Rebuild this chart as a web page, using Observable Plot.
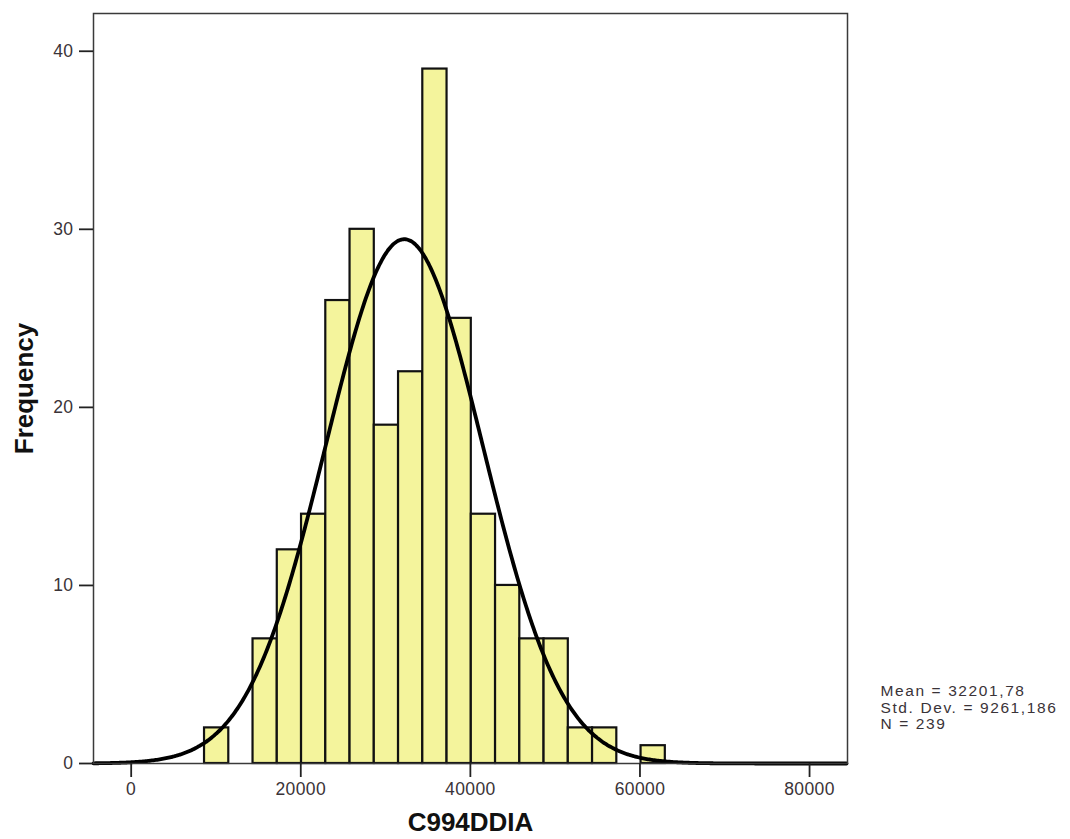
<!DOCTYPE html>
<html>
<head>
<meta charset="utf-8">
<script src="https://cdn.jsdelivr.net/npm/d3@7"></script>
<script src="https://cdn.jsdelivr.net/npm/@observablehq/plot@0.6"></script>
<style>
  html, body { margin: 0; padding: 0; background: #ffffff; }
  #chart svg { display: block; }
  g[aria-label="x-axis tick label"] text, g[aria-label="y-axis tick label"] text { letter-spacing: 0.4px; }
  g[aria-label="text"].stats text { letter-spacing: 1.6px; }
</style>
</head>
<body>
<div id="chart"></div>
<script>
// ---- data ----
const binEdges = [8650, 11510, 14370, 17230, 20090, 22950, 25810, 28670, 31530, 34390,
                  37250, 40110, 42970, 45830, 48690, 51550, 54410, 57270, 60130, 62990];
const counts   = [2, 0, 7, 12, 14, 26, 30, 19, 22, 39, 25, 14, 10, 7, 7, 2, 2, 0, 1];
const xTicks = [0, 20000, 40000, 60000, 80000];
const yTicks = [0, 10, 20, 30, 40];
const statMean = 32201.78;
const statSD = 9261.186;
const statN = 239;
const statLines = ["Mean = 32201,78", "Std. Dev. = 9261,186", "N = 239"];
const xLabel = "C994DDIA";
const yLabel = "Frequency";

const bins = counts.map((c, i) => ({x1: binEdges[i], x2: binEdges[i + 1], count: c})).filter(d => d.count > 0);
const binWidth = (binEdges[binEdges.length - 1] - binEdges[0]) / counts.length;

const xDomain = [-4444, 84475];
const yDomain = [0, 42.12];

// fitted normal curve (from the stated mean, std. dev. and N)
const curve = d3.range(xDomain[0], xDomain[1] + 1, 150).map(x => ({
  x,
  y: statN * binWidth * Math.exp(-0.5 * ((x - statMean) / statSD) ** 2) / (statSD * Math.sqrt(2 * Math.PI))
}));

const chart = Plot.plot({
  width: 1070,
  height: 839,
  marginLeft: 93,
  marginRight: 223,
  marginTop: 13,
  marginBottom: 76,
  style: {fontFamily: "'Liberation Sans', Arial, sans-serif", background: "#ffffff", color: "#3a3338"},
  x: {domain: xDomain, ticks: xTicks, tickFormat: d => String(d)},
  y: {domain: yDomain, ticks: yTicks},
  marks: [
    Plot.rectY(bins, {x1: "x1", x2: "x2", y: "count", fill: "#f4f49c", stroke: "#111", strokeWidth: 2.2}),
    Plot.line(curve, {x: "x", y: "y", stroke: "#000", strokeWidth: 3.8, curve: "basis"}),
    Plot.frame({stroke: "#3a3a3a", strokeWidth: 1.5}),
    Plot.axisX({ticks: xTicks, tickFormat: d => String(d), tickSize: 14, tickPadding: 5, fontSize: 17.5, label: null, stroke: "#222", strokeWidth: 1.8, fill: "#3a3338"}),
    Plot.axisY({ticks: yTicks, tickSize: 14, tickPadding: 6, fontSize: 17.5, label: null, stroke: "#222", strokeWidth: 1.8, fill: "#3a3338"}),
    Plot.text([yLabel], {frameAnchor: "left", dx: -69, rotate: -90, textAnchor: "middle", lineAnchor: "middle", fontSize: 26, fontWeight: "bold", fill: "#111"}),
    Plot.text([xLabel], {frameAnchor: "bottom", dy: 59, textAnchor: "middle", lineAnchor: "middle", fontSize: 26, fontWeight: "bold", fill: "#111"}),
    Plot.text([statLines.join("\n")], {frameAnchor: "bottom-right", dx: 33, dy: -79, textAnchor: "start", lineAnchor: "top", lineHeight: 1.06, fontSize: 15.5, fill: "#3a3338", className: "stats"})
  ]
});
document.getElementById("chart").appendChild(chart);
</script>
</body>
</html>
